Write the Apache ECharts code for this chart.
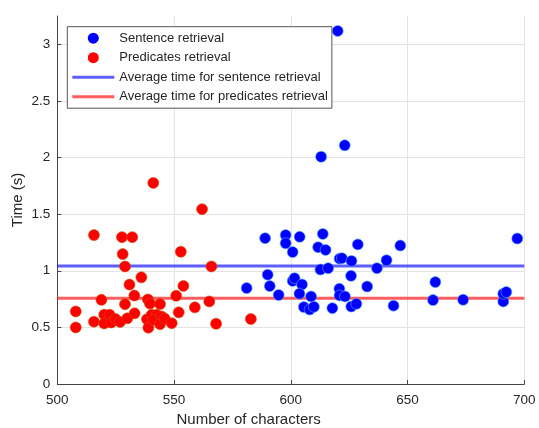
<!DOCTYPE html>
<html><head><meta charset="utf-8">
<script src="https://cdn.jsdelivr.net/npm/echarts@6/dist/echarts.min.js"></script>
<style>html,body{margin:0;padding:0;background:#fff}#c{width:539px;height:428px}</style>
</head><body><div id="c"></div>
<script>
var xTicks = [500, 550, 600, 650, 700];
var yTicks = [0, 0.5, 1, 1.5, 2, 2.5, 3];
var seriesNames = ['Sentence retrieval', 'Predicates retrieval', 'Average time for sentence retrieval', 'Average time for predicates retrieval'];
var sentencePoints = [
  [581.1,0.847],[589,1.288],[590.1,0.965],[591,0.865],[594.8,0.786],[597.8,1.315],[597.8,1.243],[600.8,1.165],
  [603.8,1.30],[600.8,0.91],[601.6,0.935],[604.8,0.879],[603.7,0.798],[608.7,0.773],[605.6,0.679],[608.1,0.658],
  [609.9,0.682],[613.7,1.325],[611.7,1.208],[614.9,1.184],[612.7,1.011],[616.0,1.023],[617.8,0.670],[620.9,1.107],
  [621.9,1.111],[620.8,0.841],[620.9,0.782],[623.2,0.773],[626.0,1.087],[625.8,0.955],[628.7,1.233],[625.9,0.684],
  [628.1,0.708],[632.7,0.861],[636.9,1.023],[641.0,1.093],[646.9,1.223],[644.0,0.692],[661.9,0.90],[660.9,0.741],
  [673.8,0.744],[691,0.729],[691,0.797],[692.3,0.812],[697,1.285],[700.1,1.021],[620.1,3.118],[623.1,2.108],[613,2.007]
];
var predicatePoints = [
  [507.9,0.641],[507.9,0.50],[515.7,1.315],[515.7,0.55],[518.9,0.743],[520.1,0.612],[520.1,0.535],[522.4,0.612],
  [523.1,0.543],[524.9,0.574],[526.9,0.548],[527.7,1.297],[528,1.147],[529,1.038],[529,0.705],[530,0.58],
  [530.9,0.878],[532.1,1.297],[533,0.781],[533.1,0.624],[536,0.942],[538.8,0.747],[539.7,0.71],[538.4,0.572],
  [539,0.497],[541.1,1.776],[540.4,0.611],[542.6,0.611],[541.1,0.567],[544.7,0.596],[544,0.706],[544,0.528],
  [546,0.578],[549,0.537],[550.9,0.779],[552,0.633],[552.9,1.168],[554,0.866],[558.9,0.677],[562,1.544],
  [565.1,0.729],[566,1.038],[568,0.532],[582.9,0.574]
];
var avgSentence = 1.043;
var avgPredicates = 0.757;
var xLabel = 'Number of characters';
var yLabel = 'Time (s)';

var FONT = '"Liberation Sans", Arial, Helvetica, sans-serif';
var TXT = '#262626';
var LINE_ICON = 'path://M0,0 L42,0 L42,3 L0,3 Z';
var chart = echarts.init(document.getElementById('c'), null, {renderer: 'canvas'});
chart.setOption({
  animation: false,
  backgroundColor: '#ffffff',
  grid: {left: 57.3, right: 14.7, top: 16, bottom: 44, containLabel: false},
  xAxis: {
    type: 'value', min: xTicks[0], max: xTicks[xTicks.length - 1], interval: 50,
    axisLine: {show: true, onZero: false, lineStyle: {color: '#444', width: 1}},
    axisTick: {show: true, inside: true, length: 4, lineStyle: {color: '#444'}},
    axisLabel: {color: TXT, fontSize: 13.5, fontFamily: FONT, margin: 9},
    splitLine: {show: true, lineStyle: {color: '#e3e3e3', width: 1}}
  },
  yAxis: {
    type: 'value', min: 0, max: 3.25, interval: 0.5,
    axisLine: {show: true, onZero: false, lineStyle: {color: '#444', width: 1}},
    axisTick: {show: true, inside: true, length: 4, lineStyle: {color: '#444'}},
    axisLabel: {color: TXT, fontSize: 13.5, fontFamily: FONT, margin: 7, showMaxLabel: false,
      formatter: function (v) { return yTicks.indexOf(v) >= 0 ? String(v) : ''; }},
    splitLine: {show: true, showMaxLine: false, lineStyle: {color: '#e3e3e3', width: 1}}
  },
  legend: {
    orient: 'vertical', left: 67.3, top: 26.7,
    padding: [5, 4, 5, 5], itemGap: 6.5, itemWidth: 42, itemHeight: 11,
    symbolKeepAspect: true,
    backgroundColor: '#fff', borderColor: '#555', borderWidth: 1, borderRadius: 0,
    itemStyle: {borderWidth: 0},
    textStyle: {color: TXT, fontSize: 13, fontFamily: FONT, lineHeight: 11},
    data: [
      {name: seriesNames[0], icon: 'circle', itemStyle: {color: '#0000ff', borderWidth: 0}},
      {name: seriesNames[1], icon: 'circle', itemStyle: {color: '#ff0000', borderWidth: 0}},
      {name: seriesNames[2], icon: LINE_ICON, itemStyle: {color: 'rgba(40,40,255,0.75)', borderWidth: 0}},
      {name: seriesNames[3], icon: LINE_ICON, itemStyle: {color: 'rgba(255,40,40,0.75)', borderWidth: 0}}
    ]
  },
  series: [
    {name: seriesNames[2], type: 'line', z: 1, symbol: 'none', silent: true,
     data: [[xTicks[0], avgSentence], [xTicks[xTicks.length - 1], avgSentence]],
     lineStyle: {color: 'rgba(40,40,255,0.75)', width: 3}, itemStyle: {color: 'rgba(40,40,255,0.75)'}},
    {name: seriesNames[3], type: 'line', z: 1, symbol: 'none', silent: true,
     data: [[xTicks[0], avgPredicates], [xTicks[xTicks.length - 1], avgPredicates]],
     lineStyle: {color: 'rgba(255,40,40,0.75)', width: 3}, itemStyle: {color: 'rgba(255,40,40,0.75)'}},
    {name: seriesNames[0], type: 'scatter', z: 3, symbol: 'circle', symbolSize: 11, data: sentencePoints,
     itemStyle: {color: '#0000ff', borderColor: '#5aa9ff', borderWidth: 0.6, opacity: 1}},
    {name: seriesNames[1], type: 'scatter', z: 3, symbol: 'circle', symbolSize: 11, data: predicatePoints,
     itemStyle: {color: '#ff0000', borderColor: '#c8500a', borderWidth: 0.6, opacity: 1}}
  ],
  graphic: [
    {type: 'text', left: 176.5, top: 412, silent: true,
     style: {text: xLabel, fill: TXT, font: '15px ' + FONT}},
    {type: 'text', x: 18, y: 200, rotation: Math.PI / 2, silent: true,
     style: {text: yLabel, fill: TXT, font: '15px ' + FONT, align: 'center', verticalAlign: 'middle'}}
  ]
});
</script></body></html>
